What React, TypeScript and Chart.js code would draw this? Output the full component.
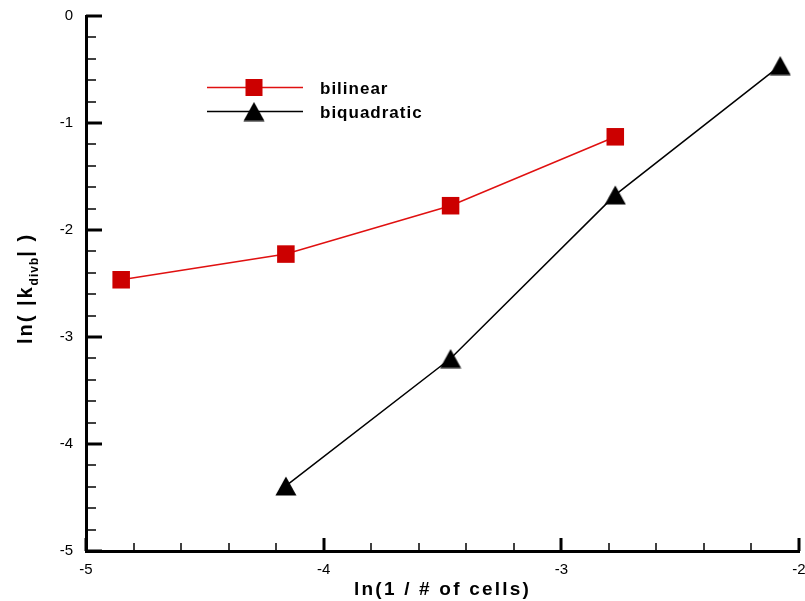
import React, { useEffect, useRef } from 'react';
import { Chart, registerables } from 'chart.js';

Chart.register(...registerables);

// ---- data ----
const bilinearX = [-4.852, -4.159, -3.466, -2.773];
const bilinearY = [-2.465, -2.225, -1.773, -1.129];
const biquadraticX = [-4.159, -3.466, -2.773, -2.079];
const biquadraticY = [-4.392, -3.201, -1.672, -0.463];
const seriesNames = ['bilinear', 'biquadratic'];
const xRange = [-5, -2];
const yRange = [-5, 0];
const xTitle = 'ln(1 / # of cells)';
const yTitleParts = ['ln( |k', 'divb', '| )'];

const FONT = '"Liberation Sans", Arial, Helvetica, sans-serif';
const RED_FILL = '#cc0000';
const RED_LINE = '#e01010';

function makeTriangle(): HTMLCanvasElement {
  const c = document.createElement('canvas');
  c.width = 22;
  c.height = 20;
  const g = c.getContext('2d')!;
  g.fillStyle = '#000';
  g.beginPath();
  g.moveTo(11, 0.5);
  g.lineTo(21.5, 19.5);
  g.lineTo(0.5, 19.5);
  g.closePath();
  g.fill();
  return c;
}

function setSpacing(ctx: CanvasRenderingContext2D, px: number) {
  try {
    (ctx as any).letterSpacing = px + 'px';
  } catch (e) {
    /* ignore */
  }
}

const innerTicks = {
  id: 'innerTicks',
  afterDatasetsDraw(chart: any) {
    const { ctx, chartArea } = chart;
    const xs = chart.scales.x;
    const ys = chart.scales.y;
    ctx.save();
    ctx.strokeStyle = '#000';
    const step = 0.2;
    const nx = Math.round((xRange[1] - xRange[0]) / step);
    for (let i = 0; i <= nx; i++) {
      const v = xRange[0] + i * step;
      const major = i % 5 === 0;
      const px = Math.round(xs.getPixelForValue(v));
      ctx.lineWidth = major ? 3 : 1.5;
      ctx.beginPath();
      ctx.moveTo(px, chartArea.bottom);
      ctx.lineTo(px, chartArea.bottom - (major ? 13 : 8));
      ctx.stroke();
    }
    const ny = Math.round((yRange[1] - yRange[0]) / step);
    for (let i = 0; i <= ny; i++) {
      const v = yRange[0] + i * step;
      const major = i % 5 === 0;
      const py = Math.round(ys.getPixelForValue(v));
      ctx.lineWidth = major ? 3 : 1.5;
      ctx.beginPath();
      ctx.moveTo(chartArea.left, py);
      ctx.lineTo(chartArea.left + (major ? 16 : 10), py);
      ctx.stroke();
    }
    ctx.restore();
  },
};

function makeTitlesAndLegend(tri: HTMLCanvasElement) {
  return {
    id: 'titlesAndLegend',
    afterDraw(chart: any) {
      const { ctx, chartArea } = chart;
      ctx.save();
      ctx.fillStyle = '#000';
      // x title
      ctx.font = `bold 19px ${FONT}`;
      setSpacing(ctx, 2.2);
      ctx.textAlign = 'left';
      ctx.textBaseline = 'alphabetic';
      const xw = ctx.measureText(xTitle).width;
      const cx = (chartArea.left + chartArea.right) / 2;
      ctx.fillText(xTitle, cx - xw / 2, 595);

      // y title (rotated, with subscript)
      const cy = (chartArea.top + chartArea.bottom) / 2 + 5;
      ctx.save();
      ctx.translate(32, cy);
      ctx.rotate(-Math.PI / 2);
      const fonts = [`bold 20px ${FONT}`, `bold 12px ${FONT}`, `bold 20px ${FONT}`];
      const dys = [0, 6, 0];
      const widths = yTitleParts.map((t, i) => {
        ctx.font = fonts[i];
        setSpacing(ctx, i === 1 ? 1 : 2);
        return ctx.measureText(t).width;
      });
      const total = widths.reduce((a, b) => a + b, 0);
      let x0 = -total / 2;
      yTitleParts.forEach((t, i) => {
        ctx.font = fonts[i];
        setSpacing(ctx, i === 1 ? 1 : 2);
        ctx.fillText(t, x0, dys[i]);
        x0 += widths[i];
      });
      ctx.restore();

      // legend
      const rows = [
        { y: 87.5, color: RED_LINE, kind: 'rect' },
        { y: 111.5, color: '#000', kind: 'tri' },
      ];
      rows.forEach((r, i) => {
        ctx.strokeStyle = r.color;
        ctx.lineWidth = 1.5;
        ctx.beginPath();
        ctx.moveTo(207, r.y);
        ctx.lineTo(303, r.y);
        ctx.stroke();
        if (r.kind === 'rect') {
          ctx.fillStyle = RED_FILL;
          ctx.fillRect(254 - 8.5, r.y - 8.5, 17, 17);
        } else {
          ctx.drawImage(tri, 254 - tri.width / 2, r.y - tri.height / 2);
        }
        ctx.fillStyle = '#000';
        ctx.font = `bold 17px ${FONT}`;
        setSpacing(ctx, 1);
        ctx.textAlign = 'left';
        ctx.fillText(seriesNames[i], 320, r.y + 6);
      });
      ctx.restore();
    },
  };
}

export default function App() {
  const ref = useRef<HTMLCanvasElement | null>(null);

  useEffect(() => {
    if (!ref.current) return;
    const triangle = makeTriangle();
    const chart: any = new Chart(ref.current, {
      type: 'line',
      data: {
        datasets: [
          {
            label: seriesNames[0],
            data: bilinearX.map((x, i) => ({ x, y: bilinearY[i] })),
            borderColor: RED_LINE,
            borderWidth: 1.5,
            backgroundColor: RED_FILL,
            pointStyle: 'rect',
            pointRadius: 12.4,
            pointBorderWidth: 0,
            pointBackgroundColor: RED_FILL,
            tension: 0,
            fill: false,
          },
          {
            label: seriesNames[1],
            data: biquadraticX.map((x, i) => ({ x, y: biquadraticY[i] })),
            borderColor: '#000',
            borderWidth: 1.5,
            backgroundColor: '#000',
            pointStyle: triangle as any,
            pointRadius: 11,
            pointBorderWidth: 0,
            tension: 0,
            fill: false,
          },
        ],
      },
      options: {
        animation: false,
        responsive: false,
        devicePixelRatio: 1,
        clip: false as any,
        layout: {
          autoPadding: false,
          padding: { top: 16, right: 6, left: 0, bottom: 0 },
        },
        plugins: {
          legend: { display: false },
          tooltip: { enabled: false },
          title: { display: false },
        },
        scales: {
          x: {
            type: 'linear',
            min: xRange[0],
            max: xRange[1],
            ticks: {
              stepSize: 1,
              color: '#000',
              font: { family: FONT, size: 15 },
              padding: 10,
              maxRotation: 0,
              autoSkip: false,
            },
            grid: { display: false, drawTicks: false },
            border: { display: true, color: '#000', width: 3 },
            afterFit: (s: any) => {
              s.height = 50;
              s.paddingLeft = 0;
              s.paddingRight = 0;
            },
          },
          y: {
            type: 'linear',
            min: yRange[0],
            max: yRange[1],
            ticks: {
              stepSize: 1,
              color: '#000',
              font: { family: FONT, size: 15 },
              padding: 13,
              autoSkip: false,
            },
            grid: { display: false, drawTicks: false },
            border: { display: true, color: '#000', width: 3 },
            afterFit: (s: any) => {
              s.width = 86;
              s.paddingTop = 0;
              s.paddingBottom = 0;
            },
          },
        },
      },
      plugins: [innerTicks, makeTitlesAndLegend(triangle)],
    });
    return () => chart.destroy();
  }, []);

  return (
    <div
      style={{
        position: 'fixed',
        left: 0,
        top: 0,
        width: 805,
        height: 601,
        background: '#fff',
      }}
    >
      <canvas ref={ref} width={805} height={601} style={{ display: 'block' }} />
    </div>
  );
}
